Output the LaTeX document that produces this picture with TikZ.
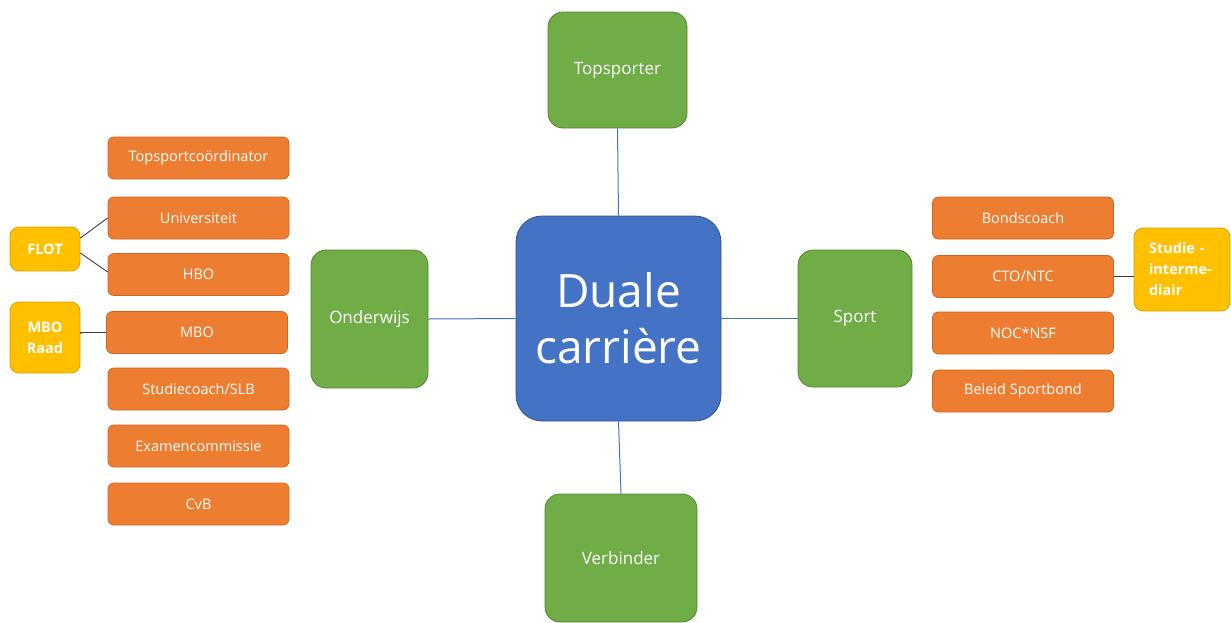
\documentclass[tikz,border=0pt]{standalone}
\usepackage{fontspec}
\setmainfont{Open Sans}
\definecolor{cgreen}{HTML}{70AD47}
\definecolor{cgreenD}{HTML}{548235}
\definecolor{cblue}{HTML}{4472C4}
\definecolor{cblueD}{HTML}{2F528F}
\definecolor{corange}{HTML}{ED7D31}
\definecolor{corangeD}{HTML}{C55A11}
\definecolor{cyellow}{HTML}{FFC000}
\definecolor{cyellowD}{HTML}{D9A300}
\begin{document}
\begin{tikzpicture}[x=1pt,y=-1pt,
  box/.style={draw, line width=0.8pt, inner sep=0pt, text=white, align=center},
  greenbox/.style={box, fill=cgreen, draw=cgreenD, rounded corners=15pt, font=\fontsize{17}{20}\selectfont},
  bluebox/.style={box, fill=cblue, draw=cblueD, rounded corners=26pt, font=\fontsize{46}{56}\selectfont},
  orangebox/.style={box, fill=corange, draw=corangeD!70!corange, rounded corners=6pt, minimum width=181pt, minimum height=42pt, font=\fontsize{14.5}{17}\selectfont},
  yellowbox/.style={box, fill=cyellow, draw=cyellowD, rounded corners=9pt, font=\bfseries\fontsize{14.5}{21}\selectfont},
  bline/.style={draw=cblue, line width=1pt},
  kline/.style={draw=black!75, line width=0.9pt}]
\useasboundingbox (0,0) rectangle (1231,622);
% central
\node[bluebox, minimum width=205pt, minimum height=205pt] (dc) at (618.5,318.5) {Duale\\carrière};
\node[greenbox, minimum width=139pt, minimum height=116pt] (top) at (617.5,70) {Topsporter};
\node[greenbox, minimum width=152pt, minimum height=128pt] (ver) at (621,558) {Verbinder};
\node[greenbox, minimum width=117pt, minimum height=138pt] (ond) at (369.5,319) {Onderwijs};
\node[greenbox, minimum width=114pt, minimum height=137pt] (spo) at (855,318.5) {Sport};
\draw[bline] (top.south) -- (dc.north);
\draw[bline] (dc.south) -- (ver.north);
\draw[bline] (ond.east) -- (dc.west);
\draw[bline] (dc.east) -- (spo.west);
% left column
\node[orangebox] (tsc) at (198.5,158) {Topsportcoördinator};
\node[orangebox] (uni) at (198.5,218) {Universiteit};
\node[orangebox] (hbo) at (198.5,274.5) {HBO};
\node[orangebox] (mbo) at (197,332.5) {MBO};
\node[orangebox] (slb) at (198.5,389) {Studiecoach/SLB};
\node[orangebox] (exa) at (198.5,446) {Examencommissie};
\node[orangebox] (cvb) at (198.5,504) {CvB};
\node[yellowbox, minimum width=70pt, minimum height=44pt] (flot) at (45,249) {FLOT};
\node[yellowbox, minimum width=70pt, minimum height=71pt] (mraad) at (45,337.5) {MBO\\Raad};
\draw[kline] ([yshift=11pt]flot.east) -- (uni.west);
\draw[kline] ([yshift=-4pt]flot.east) -- ([yshift=2.5pt]hbo.west);
\draw[kline] ([yshift=4.5pt]mraad.east) -- (mraad.east |- mbo.west) -- (mbo.west);
% right column
\node[orangebox] (bond) at (1023,218) {Bondscoach};
\node[orangebox] (cto) at (1023,276.5) {CTO/NTC};
\node[orangebox] (noc) at (1023,333) {NOC*NSF};
\node[orangebox] (bel) at (1023,391) {Beleid Sportbond};
\node[yellowbox, minimum width=96pt, minimum height=83pt, text width=66pt, align=left] (stu) at (1182,269.5) {Studie -\\interme-\\diair};
\draw[kline] (cto.east) -- (cto.east -| stu.west);
\end{tikzpicture}
\end{document}
